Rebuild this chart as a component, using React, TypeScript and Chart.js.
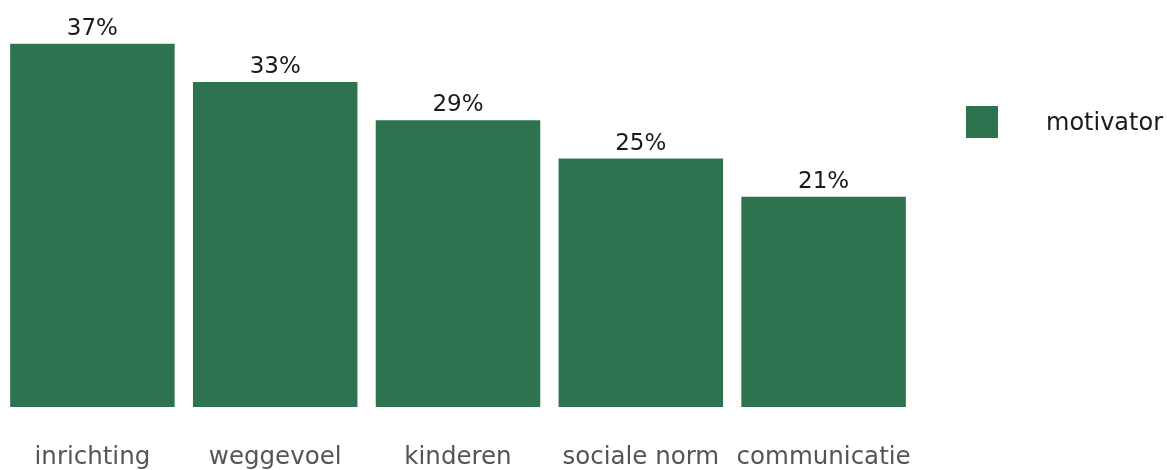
import React, { useEffect, useRef } from "react";
import { Chart, registerables } from "chart.js";

Chart.register(...registerables);

const categories = ["inrichting", "weggevoel", "kinderen", "sociale norm", "communicatie"];
const motivatorValues = [37, 33, 29, 25, 21];
const seriesName = "motivator";
const axisMin = -1;
const axisMax = 40;

const BAR_COLOR = "#2e7350";
const FONT = '"DejaVu Sans", sans-serif';

const valueLabelPlugin = {
  id: "valueLabels",
  afterDatasetsDraw(chart: any) {
    const ctx = chart.ctx;
    const meta = chart.getDatasetMeta(0);
    const data = chart.data.datasets[0].data;
    ctx.save();
    ctx.font = `23px ${FONT}`;
    ctx.fillStyle = "#1a1a1a";
    ctx.textAlign = "center";
    ctx.textBaseline = "alphabetic";
    meta.data.forEach((bar: any, i: number) => {
      ctx.fillText(`${data[i]}%`, bar.x, bar.y - 8.7);
    });
    ctx.restore();
  },
};

export default function App() {
  const canvasRef = useRef<HTMLCanvasElement | null>(null);

  useEffect(() => {
    const canvas = canvasRef.current;
    if (!canvas) return;
    const chart = new Chart(canvas, {
      type: "bar",
      data: {
        labels: categories,
        datasets: [
          {
            label: seriesName,
            data: motivatorValues,
            backgroundColor: BAR_COLOR,
            borderWidth: 0,
            base: axisMin,
            barPercentage: 0.9,
            categoryPercentage: 1,
          } as any,
        ],
      },
      options: {
        responsive: false,
        animation: false,
        layout: { padding: { top: 15, left: 1, right: 252, bottom: -38 } },
        plugins: {
          legend: { display: false },
          tooltip: { enabled: false },
        },
        scales: {
          x: {
            grid: { display: false, drawTicks: false },
            border: { display: false },
            ticks: {
              color: "#555555",
              font: { family: FONT, size: 24.5, lineHeight: "41px" },
              padding: 30,
              autoSkip: false,
              maxRotation: 0,
              minRotation: 0,
            },
          },
          y: {
            display: false,
            min: axisMin,
            max: axisMax,
          },
        },
      },
      plugins: [valueLabelPlugin],
    });
    return () => chart.destroy();
  }, []);

  return (
    <div style={{ position: "fixed", left: 0, top: 0, width: 1167, height: 470, background: "#fff" }}>
      <canvas ref={canvasRef} width={1167} height={470} style={{ position: "absolute", left: 0, top: 0 }} />
      <div
        style={{
          position: "absolute",
          left: 966,
          top: 106,
          width: 32,
          height: 32,
          background: BAR_COLOR,
        }}
      />
      <span
        style={{
          position: "absolute",
          left: 1046,
          top: 122,
          transform: "translateY(-50%)",
          fontFamily: FONT,
          fontSize: 24,
          lineHeight: "24px",
          color: "#1a1a1a",
          whiteSpace: "nowrap",
        }}
      >
        {seriesName}
      </span>
    </div>
  );
}
